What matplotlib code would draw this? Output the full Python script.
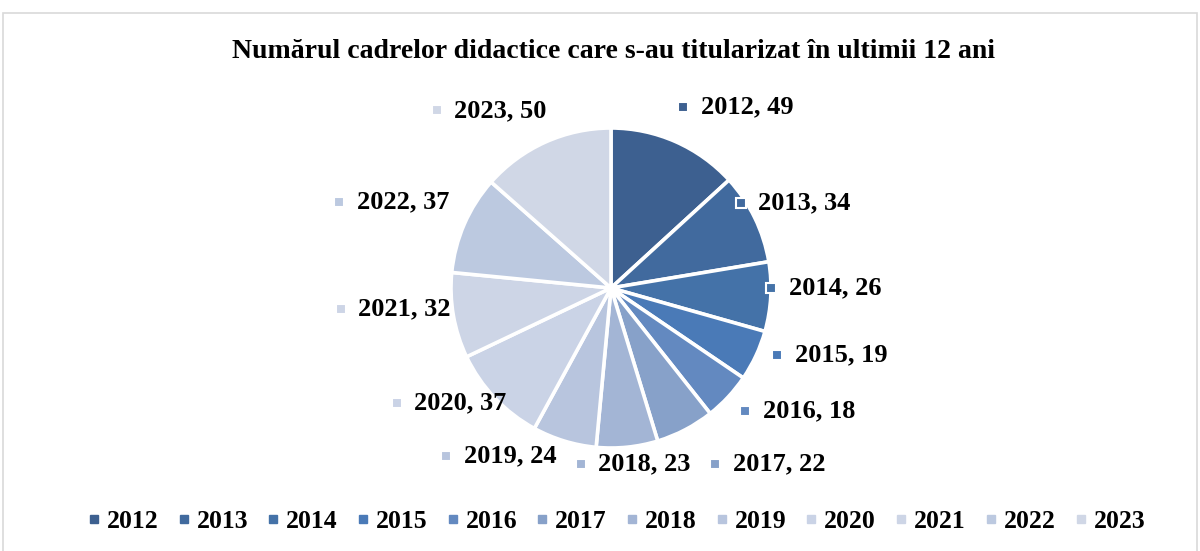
import matplotlib.pyplot as plt
from matplotlib.lines import Line2D
from matplotlib.patches import Rectangle

years = ["2012", "2013", "2014", "2015", "2016", "2017",
         "2018", "2019", "2020", "2021", "2022", "2023"]
counts = [49, 34, 26, 19, 18, 22, 23, 24, 37, 32, 37, 50]
colors = ["#3d6090", "#416a9e", "#4472a8", "#4a7ab7", "#6389c0", "#87a1c9",
          "#a3b5d5", "#b8c5de", "#cad3e6", "#cdd5e6", "#bcc9e0", "#d0d7e6"]

# label marker positions (pie data coords, radius = 1)
lab_x = [0.45, 0.81, 1.00, 1.04, 0.84, 0.65, -0.19, -1.03, -1.34, -1.69, -1.70, -1.09]
lab_y = [1.13, 0.53, 0.00, -0.42, -0.77, -1.10, -1.10, -1.05, -0.72, -0.13, 0.54, 1.11]

plt.rcParams['font.family'] = ['Liberation Serif', 'DejaVu Serif']
plt.rcParams['font.weight'] = 'bold'

fig = plt.figure(figsize=(12, 5.51), dpi=100)
fig.patches.append(Rectangle((3 / 1200, -0.1), 1194 / 1200, 1.1 - 13 / 551,
                             transform=fig.transFigure, fill=False,
                             edgecolor="#d9d9d9", linewidth=1.2))

ax = fig.add_axes([451 / 1200, 103 / 551, 320 / 1200, 320 / 551])
wedges, _ = ax.pie(counts, colors=colors, startangle=90, counterclock=False,
                   radius=1, wedgeprops=dict(edgecolor="white", linewidth=2.6))
ax.set_xlim(-1, 1)
ax.set_ylim(-1, 1)
ax.set_aspect('equal')
ax.axis('off')

for x, y, yr, c, col in zip(lab_x, lab_y, years, counts, colors):
    ax.plot(x, y, marker='s', markersize=6.5, color=col, markeredgecolor='white',
            markeredgewidth=1.5, clip_on=False, zorder=5)
    ax.text(x + 0.11, y, f"{yr}, {c}", fontsize=19, fontweight='bold',
            ha='left', va='center', clip_on=False)

fig.text(614 / 1200, 1 - 51 / 551, "Numărul cadrelor didactice care s-au titularizat în ultimii 12 ani",
         ha='center', va='center', fontsize=20, fontweight='bold')

handles = [Line2D([], [], marker='s', linestyle='', markersize=6, color=col) for col in colors]
fig.legend(handles, years, loc='center', bbox_to_anchor=(617 / 1200, 1 - 521 / 551),
           ncol=12, frameon=False, handlelength=0.4, handletextpad=0.3,
           columnspacing=0.78, prop={'weight': 'bold', 'size': 18.5})

fig.savefig("out.png", dpi=100)
